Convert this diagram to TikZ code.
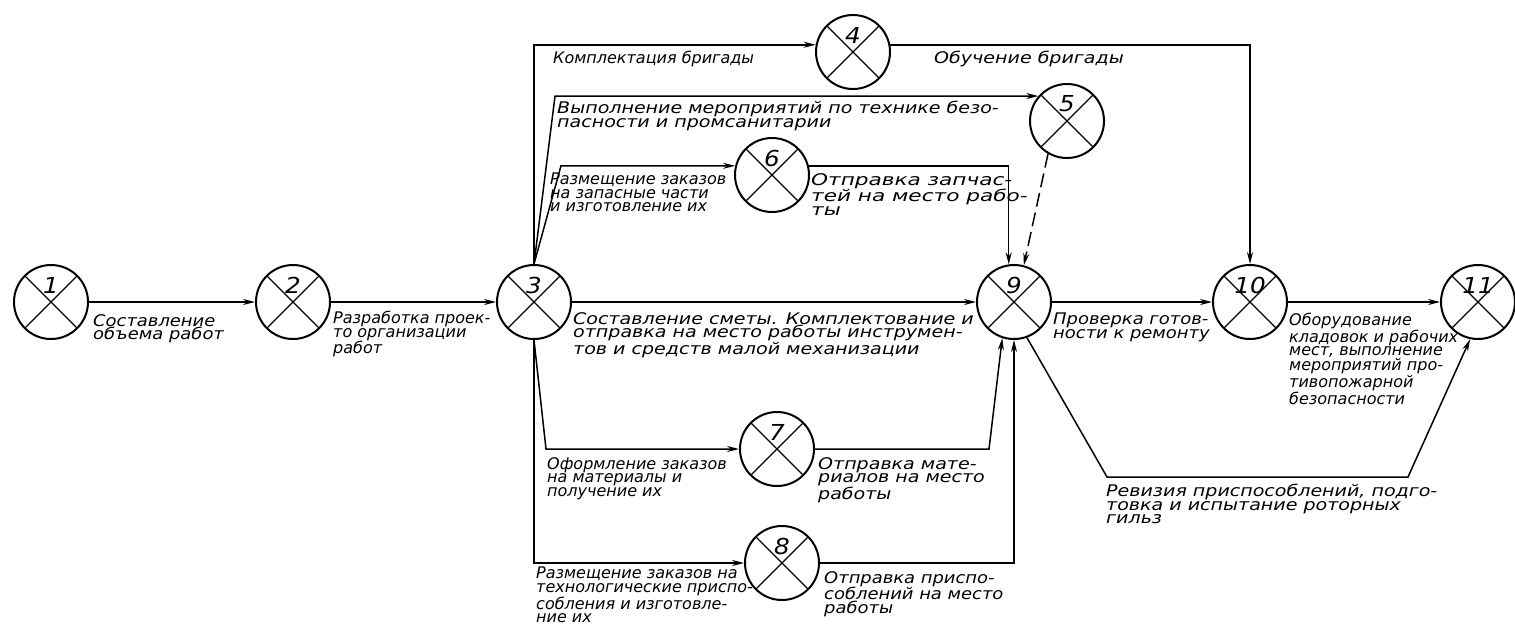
\documentclass[tikz,border=0pt]{standalone}
\usepackage{fontspec}
\setmainfont{DejaVu Sans}
\newfontfamily\handA{DejaVu Sans}
\newfontfamily\handB{DejaVu Sans}[FakeStretch=1.12]
\newfontfamily\handC{DejaVu Sans}[FakeStretch=1.19]
\newfontfamily\handD{DejaVu Sans}[FakeStretch=1.35]
\usetikzlibrary{arrows.meta}
\begin{document}
\begin{tikzpicture}[x=1pt,y=-1pt,
  event/.style={circle,draw,line width=2pt,minimum size=74pt,inner sep=0pt,
    path picture={\draw[line width=1.1pt] (path picture bounding box.center) +(45:50pt) -- +(225:50pt) +(135:50pt) -- +(-45:50pt);}},
  num/.style={inner sep=0pt,font=\handB\fontsize{22}{22}\selectfont\itshape},
  conn/.style={line width=1.5pt},
  arr/.style={conn,-{Stealth[length=12pt,width=6pt]}},
  dash5/.style={dash pattern=on 14pt off 6pt},
  lbl/.style={anchor=north west,inner sep=0pt,align=left,font=\handA\fontsize{16}{13.5}\selectfont\itshape},
  lblB/.style={lbl,font=\handB\fontsize{16}{13.5}\selectfont\itshape},
  lblC/.style={lbl,font=\handC\fontsize{16}{13.5}\selectfont\itshape},
  lblD/.style={lbl,font=\handD\fontsize{16}{13.5}\selectfont\itshape}
]
\useasboundingbox (0,0) rectangle (1515,624);
% events
\node[event] (n1) at (51,302) {};
\node[event] (n2) at (293,302) {};
\node[event] (n3) at (534,302) {};
\node[event] (n4) at (853,52) {};
\node[event] (n5) at (1067,121) {};
\node[event] (n6) at (772,175) {};
\node[event] (n7) at (777,449) {};
\node[event] (n8) at (782,563) {};
\node[event] (n9) at (1014,302) {};
\node[event] (n10) at (1250,302) {};
\node[event] (n11) at (1478,302) {};
% numbers
\node[num] (t1) at ([yshift=17pt]n1.center) {1};
\node[num] (t2) at ([yshift=17pt]n2.center) {2};
\node[num] (t3) at ([yshift=17pt]n3.center) {3};
\node[num] (t4) at ([yshift=17pt]n4.center) {4};
\node[num] (t5) at ([yshift=17pt]n5.center) {5};
\node[num] (t6) at ([yshift=17pt]n6.center) {6};
\node[num] (t7) at ([yshift=17pt]n7.center) {7};
\node[num] (t8) at ([yshift=17pt]n8.center) {8};
\node[num] (t9) at ([yshift=17pt]n9.center) {9};
\node[num] (t10) at ([yshift=17pt]n10.center) {10};
\node[num] (t11) at ([yshift=17pt]n11.center) {11};
% helper coordinates
\coordinate (k5) at (555,0);
\coordinate (k6) at (561,0);
\coordinate (k7) at (546,0);
\coordinate (k79) at (989,0);
\coordinate (k91) at (1107,477);
\coordinate (k92) at (1408,477);
% main chain
\draw[arr] (n1.east) -- (n2.west);
\draw[arr] (n2.east) -- (n3.west);
\draw[arr] (n3.east) -- (n9.west);
\draw[arr] (n9.east) -- (n10.west);
\draw[arr] (n10.east) -- (n11.west);
% upper branches
\draw[arr] (n3.north) -- (n3.north |- n4.169) -- (n4.169);
\draw[arr] (n4.11) -- (n4.11 -| n10.north) -- (n10.north);
\draw[arr] (n3.north) -- (k5 |- n5.139) -- (n5.139);
\draw[arr] (n3.north) -- (k6 |- n6.166) -- (n6.166);
\draw[arr] (n6.14) -- (n6.14 -| n9.98) -- (n9.98);
\draw[arr,dash5] (n5.240) -- (n9.75);
% lower branches
\draw[arr] (n3.south) -- (k7 |- n7.west) -- (n7.west);
\draw[arr] (n3.south) -- (n3.south |- n8.west) -- (n8.west);
\draw[arr] (n7.east) -- (k79 |- n7.east) -- (n9.252);
\draw[arr] (n8.east) -- (n8.east -| n9.south) -- (n9.south);
\draw[arr] (n9.-70) -- (k91) -- (k92) -- (n11.258);
% labels
\node[lblB] (l12) at (93,314) {Составление\\объема работ};
\node[lbl] (l23) at (333,311) {Разработка проек-\\то организации\\работ};
\node[lblC] (l39) at (573,312) {Составление сметы. Комплектование и\\отправка на место работы инструмен-\\тов и средств малой механизации};
\node[lbl] (l34) at (553,51) {Комплектация бригады};
\node[lblC] (l410) at (934,51) {Обучение бригады};
\node[lblC] (l35) at (557,101) {Выполнение мероприятий по технике безо-\\пасности и промсанитарии};
\node[lbl] (l36) at (550,173) {Размещение заказов\\на запасные части\\и изготовление их};
\node[lblD] (l69) at (811,173) {Отправка запчас-\\тей на место рабо-\\ты};
\node[lbl] (l37) at (547,457) {Оформление заказов\\на материалы и\\получение их};
\node[lblC] (l79) at (818,457) {Отправка мате-\\риалов на место\\работы};
\node[lbl] (l38) at (536,567) {Размещение заказов на\\технологические приспо-\\собления и изготовле-\\ние их};
\node[lblB] (l89) at (824,571) {Отправка приспо-\\соблений на место\\работы};
\node[lblB] (l910) at (1053,313) {Проверка готов-\\ности к ремонту};
\node[lbl] (l1011) at (1289,313) {Оборудование\\кладовок и рабочих\\мест, выполнение\\мероприятий про-\\тивопожарной\\безопасности};
\node[lblC] (l911) at (1106,484) {Ревизия приспособлений, подго-\\товка и испытание роторных\\гильз};
\end{tikzpicture}
\end{document}
